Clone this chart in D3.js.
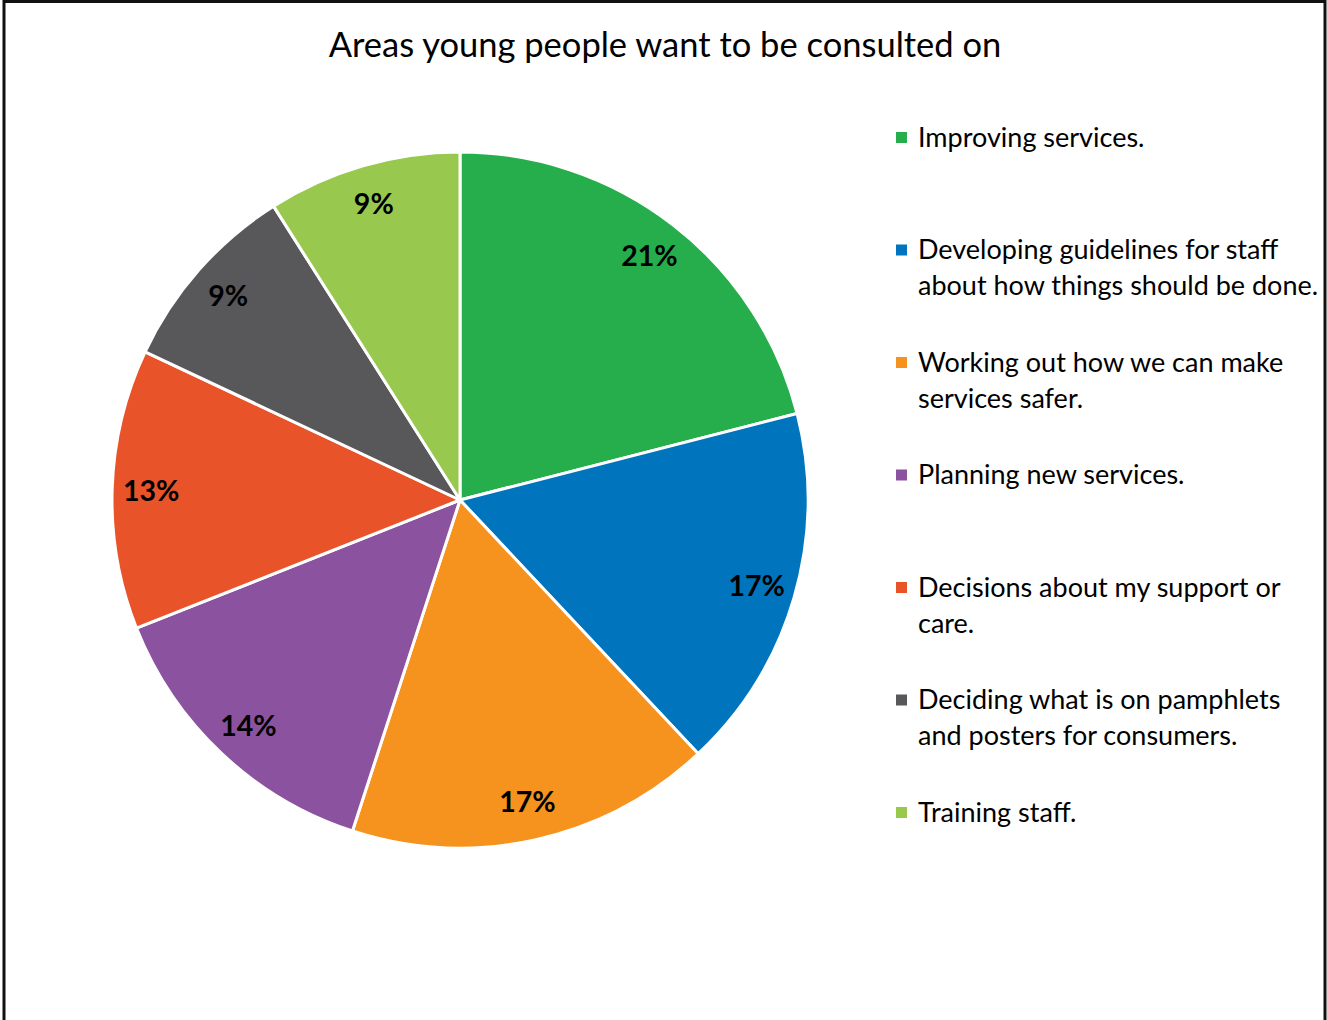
<!DOCTYPE html>
<html>
<head>
<meta charset="utf-8">
<script src="https://cdn.jsdelivr.net/npm/d3@7"></script>
<style>
  html, body { margin: 0; padding: 0; background: #fff; }
  svg { display: block; }
</style>
</head>
<body>
<svg id="chart" width="1327" height="1020"></svg>
<script>
// Survey answers: share of young people per consultation area (percent)
const categories = [
  "Improving services.",
  "Developing guidelines for staff about how things should be done.",
  "Working out how we can make services safer.",
  "Planning new services.",
  "Decisions about my support or care.",
  "Deciding what is on pamphlets and posters for consumers.",
  "Training staff."
];
const values = [21, 17, 17, 14, 13, 9, 9];
const colors = ["#25ae4b", "#0075be", "#f6921e", "#8b52a0", "#e8532a", "#58585b", "#98c94e"];
// Legend text, already broken into lines
const legendLines = [
  ["Improving services."],
  ["Developing guidelines for staff", "about how things should be done."],
  ["Working out how we can make", "services safer."],
  ["Planning new services."],
  ["Decisions about my support or", "care."],
  ["Deciding what is on pamphlets", "and posters for consumers."],
  ["Training staff."]
];
const title = "Areas young people want to be consulted on";

const svg = d3.select("#chart");
const W = 1327, H = 1020;
const font = "Lato, 'Open Sans', sans-serif";

// Outer frame
svg.append("rect")
  .attr("x", 4).attr("y", 1.5)
  .attr("width", 1321).attr("height", H + 10)
  .attr("fill", "#fff").attr("stroke", "#111").attr("stroke-width", 3);

// Title
svg.append("text")
  .attr("x", 665).attr("y", 57)
  .attr("text-anchor", "middle")
  .attr("font-family", font).attr("font-size", 34.5)
  .attr("fill", "#000")
  .text(title);

// Pie
const cx = 460, cy = 500, R = 348;
const data = categories.map((c, i) => ({ name: c, value: values[i], color: colors[i] }));
const pie = d3.pie().value(d => d.value).sort(null);
const arcs = pie(data);
const arc = d3.arc().innerRadius(0).outerRadius(R);
const labelArc = d3.arc().innerRadius(309).outerRadius(309);

const g = svg.append("g").attr("transform", `translate(${cx},${cy})`);
g.selectAll("path.slice")
  .data(arcs)
  .join("path")
  .attr("class", "slice")
  .attr("d", arc)
  .attr("fill", d => d.data.color)
  .attr("stroke", "#fff")
  .attr("stroke-width", 3)
  .attr("stroke-linejoin", "round");

g.selectAll("text.pct")
  .data(arcs)
  .join("text")
  .attr("class", "pct")
  .attr("transform", d => `translate(${labelArc.centroid(d)})`)
  .attr("text-anchor", "middle")
  .attr("dy", "0.36em")
  .attr("font-family", font).attr("font-weight", "bold").attr("font-size", 28.5)
  .attr("fill", "#000")
  .text(d => d.data.value + "%");

// Legend
const legendX = 896, legendTop = 137, legendStep = 112.5, lineH = 36;
const lg = svg.append("g");
legendLines.forEach((lines, i) => {
  const y = legendTop + i * legendStep;
  lg.append("rect")
    .attr("x", legendX).attr("y", y - 5)
    .attr("width", 11).attr("height", 11)
    .attr("fill", colors[i]);
  const t = lg.append("text")
    .attr("font-family", font).attr("font-size", 27)
    .attr("fill", "#000");
  lines.forEach((ln, j) => {
    t.append("tspan")
      .attr("x", legendX + 22)
      .attr("y", y + j * lineH)
      .attr("dy", "0.36em")
      .text(ln);
  });
});
</script>
</body>
</html>
